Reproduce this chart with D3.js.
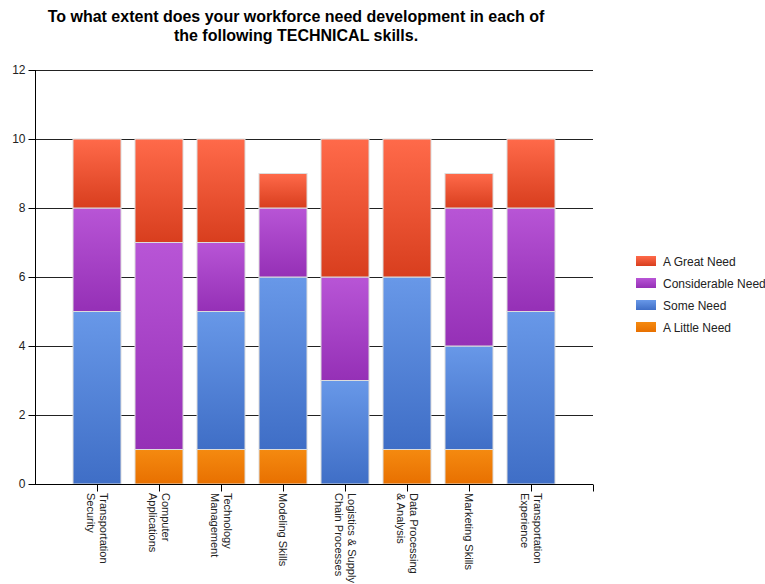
<!DOCTYPE html>
<html>
<head>
<meta charset="utf-8">
<script src="https://cdn.jsdelivr.net/npm/d3@7"></script>
<style>
  html, body { margin: 0; padding: 0; background: #fff; }
  svg { display: block; font-family: "Liberation Sans", Arial, sans-serif; }
</style>
</head>
<body>
<svg id="chart" width="765" height="584"></svg>
<script>
// Skills surveyed (two-line labels split on "\n")
const categories = [
  "Transportation\nSecurity",
  "Computer\nApplications",
  "Technology\nManagement",
  "Modeling Skills",
  "Logistics & Supply\nChain Processes",
  "Data Processing\n& Analysis",
  "Marketing Skills",
  "Transportation\nExperience"
];
// Response counts per level of need
const aLittleNeed      = [0, 1, 1, 1, 0, 1, 1, 0];
const someNeed         = [5, 0, 4, 5, 3, 5, 3, 5];
const considerableNeed = [3, 6, 2, 2, 3, 0, 4, 3];
const aGreatNeed       = [2, 3, 3, 1, 4, 4, 1, 2];
const yTicks = [0, 2, 4, 6, 8, 10, 12];

const seriesNames = ["A Little Need", "Some Need", "Considerable Need", "A Great Need"];
const seriesValues = [aLittleNeed, someNeed, considerableNeed, aGreatNeed];
const palette = {
  "A Little Need":     ["#f58a10", "#e87000"],
  "Some Need":         ["#6898e8", "#3f6ec6"],
  "Considerable Need": ["#b855d6", "#9530b6"],
  "A Great Need":      ["#ff6a4a", "#d83e1e"]
};

const rows = categories.map((c, i) => {
  const r = { cat: c };
  seriesNames.forEach((s, j) => r[s] = seriesValues[j][i]);
  return r;
});
const stacked = d3.stack().keys(seriesNames)(rows);

const svg = d3.select("#chart");
const plot = { left: 35, right: 593, top: 70, bottom: 484 };

// Category positions sit at 1..n on a 0..n+1 axis
const x = d3.scaleLinear().domain([0, categories.length + 1]).range([plot.left, plot.right]);
const y = d3.scaleLinear().domain([0, 12]).range([plot.bottom, plot.top]);
const barW = 48;

// Gradients
const defs = svg.append("defs");
seriesNames.forEach((s, i) => {
  const g = defs.append("linearGradient").attr("id", "grad" + i)
    .attr("x1", 0).attr("y1", 0).attr("x2", 0).attr("y2", 1);
  g.append("stop").attr("offset", "0%").attr("stop-color", palette[s][0]);
  g.append("stop").attr("offset", "100%").attr("stop-color", palette[s][1]);
});

// Title
svg.append("text")
  .attr("x", 296).attr("y", 22)
  .attr("text-anchor", "middle")
  .attr("font-size", 16).attr("font-weight", "bold")
  .selectAll("tspan")
  .data(["To what extent does your workforce need development in each of",
         "the following TECHNICAL skills."])
  .join("tspan")
  .attr("x", 296)
  .attr("dy", (d, i) => i === 0 ? 0 : 19)
  .text(d => d);

// Horizontal gridlines
svg.append("g")
  .selectAll("line")
  .data(yTicks.filter(t => t > 0))
  .join("line")
  .attr("x1", plot.left).attr("x2", plot.right)
  .attr("y1", d => Math.round(y(d)) + 0.5).attr("y2", d => Math.round(y(d)) + 0.5)
  .attr("stroke", "#222").attr("stroke-width", 1);

// Stacked bars
svg.append("g")
  .selectAll("g")
  .data(stacked)
  .join("g")
  .attr("fill", (d, i) => `url(#grad${i})`)
  .selectAll("rect")
  .data(d => d.map((v, i) => ({ v, i })))
  .join("rect")
  .filter(d => d.v[1] > d.v[0])
  .attr("x", d => x(d.i + 1) - barW / 2)
  .attr("width", barW)
  .attr("y", d => y(d.v[1]))
  .attr("height", d => y(d.v[0]) - y(d.v[1]))
  .attr("stroke", "#dcdcdc").attr("stroke-width", 1);

// Y axis
const yAxis = svg.append("g")
  .attr("transform", `translate(${plot.left + 0.5},0)`)
  .call(d3.axisLeft(y).tickValues(yTicks).tickSize(7).tickPadding(3).tickFormat(d3.format("d")));
yAxis.select(".domain").attr("stroke", "#000").attr("d", `M0,${plot.top}V${plot.bottom}`);
yAxis.selectAll(".tick line").attr("stroke", "#000");
yAxis.selectAll("text").attr("font-size", 12).attr("fill", "#222")
  .attr("font-family", "'Liberation Sans', Arial, sans-serif");

// X axis
const xAxis = svg.append("g")
  .attr("transform", `translate(0,${plot.bottom + 0.5})`)
  .call(d3.axisBottom(x)
    .tickValues(d3.range(1, categories.length + 2))
    .tickSize(7).tickFormat(""));
xAxis.select(".domain").attr("stroke", "#000").attr("d", `M${plot.left},0H${plot.right}`);
xAxis.selectAll(".tick line").attr("stroke", "#000");

// Rotated category labels (reading downward, first line on the right)
const labels = svg.append("g")
  .selectAll("text")
  .data(categories)
  .join("text")
  .attr("transform", (d, i) => `translate(${x(i + 1)},${plot.bottom + 9}) rotate(90)`)
  .attr("font-size", 11).attr("fill", "#222");
labels.each(function (d) {
  const lines = d.split("\n");
  const lh = 13;
  d3.select(this).selectAll("tspan")
    .data(lines)
    .join("tspan")
    .attr("x", 0)
    .attr("y", (l, k) => 4 + (k - (lines.length - 1) / 2) * lh)
    .text(l => l);
});

// Legend
const legendOrder = ["A Great Need", "Considerable Need", "Some Need", "A Little Need"];
const legend = svg.append("g").attr("transform", "translate(636,256)");
const items = legend.selectAll("g")
  .data(legendOrder)
  .join("g")
  .attr("transform", (d, i) => `translate(0,${i * 22})`);
items.append("rect")
  .attr("width", 20).attr("height", 10)
  .attr("fill", d => `url(#grad${seriesNames.indexOf(d)})`);
items.append("text")
  .attr("x", 27).attr("y", 9.5)
  .attr("font-size", 12).attr("fill", "#222")
  .text(d => d);
</script>
</body>
</html>
